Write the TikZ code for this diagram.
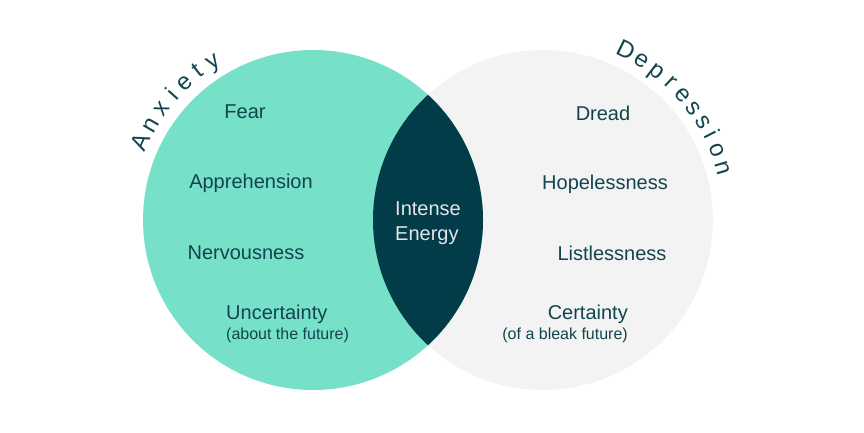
\documentclass[tikz,border=0pt]{standalone}
\usepackage{fontspec}
\setmainfont{Liberation Sans}
\definecolor{teal1}{HTML}{76E1C8}
\definecolor{lensc}{HTML}{023C48}
\definecolor{greyc}{HTML}{F3F3F3}
\definecolor{txt}{HTML}{12444F}
\definecolor{lighttxt}{HTML}{E2E6E7}
\begin{document}
\begin{tikzpicture}[x=1pt,y=1pt,
  lbl/.style={text=txt,font=\fontsize{20}{24}\selectfont,inner sep=0pt,anchor=base},
  sublbl/.style={text=txt,font=\fontsize{16}{19}\selectfont,inner sep=0pt},
  arcl/.style={text=txt,font=\fontsize{24}{28}\selectfont,inner sep=0pt,anchor=base}]
\useasboundingbox (0,0) rectangle (864,432);
\coordinate (lc) at (313,212);
\coordinate (rc) at (543,212);
\fill[greyc] (rc) circle (170);
\fill[teal1] (lc) circle (170);
\begin{scope}
  \clip (lc) circle (170);
  \fill[lensc] (rc) circle (170);
\end{scope}
% left labels
\node[lbl] (fear) at (245,313) {Fear};
\node[lbl] (appr) at (251,244) {Apprehension};
\node[lbl] (nerv) at (246,173) {Nervousness};
\node[lbl,anchor=base west] (unc) at (226,113) {Uncertainty};
\node[sublbl,anchor=base west] (uncs) at (226,93) {(about the future)};
% right labels
\node[lbl] (dread) at (603,312) {Dread};
\node[lbl] (hope) at (605,243) {Hopelessness};
\node[lbl] (list) at (612,172) {Listlessness};
\node[lbl,anchor=base east] (cert) at (628,113) {Certainty};
\node[sublbl,anchor=base east] (certs) at (628,93) {(of a bleak future)};
% lens
\node[lbl,text=lighttxt,anchor=base west] (int) at (395,217) {Intense};
\node[lbl,text=lighttxt,anchor=base west] (ene) at (395,192) {Energy};
% arc titles
\foreach \ch/\ang [count=\i] in {A/155.5,n/149.8,x/143.6,i/138.2,e/133.2,t/127.6,y/122.2}{
  \node[arcl,rotate=\ang-90] (ax\i) at ([shift={(\ang:181)}]lc) {\ch};
}
\foreach \ch/\ang [count=\i] in {D/64,e/58.2,p/52.5,r/47,e/41.8,s/36.5,s/31.4,i/27,o/22,n/16.2}{
  \node[arcl,rotate=\ang-90] (dp\i) at ([shift={(\ang:181)}]rc) {\ch};
}
\end{tikzpicture}
\end{document}
